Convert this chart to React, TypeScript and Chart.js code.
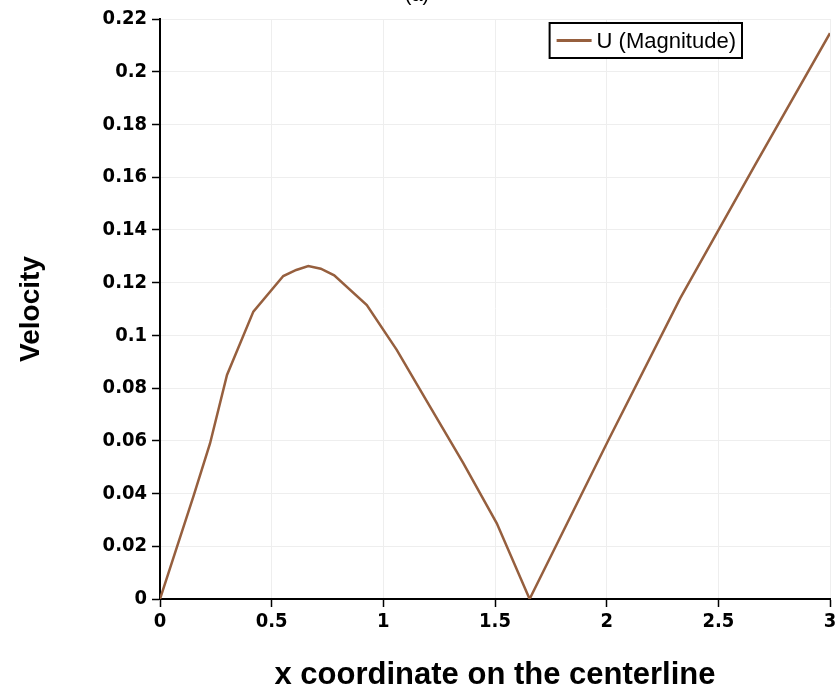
import React, { useEffect, useRef } from "react";
import { Chart, registerables } from "chart.js";

Chart.register(...registerables);

const seriesLabel = "U (Magnitude)";
const xCoords = [0, 0.15, 0.224, 0.3, 0.418, 0.552, 0.61, 0.664, 0.72, 0.78, 0.926, 1.06, 1.209, 1.358, 1.508, 1.655, 2.008, 2.329, 2.664, 3.0];
const velocity = [0, 0.039, 0.059, 0.085, 0.109, 0.1225, 0.1248, 0.1263, 0.1253, 0.1228, 0.1115, 0.0945, 0.073, 0.0515, 0.0287, 0.0, 0.0603, 0.114, 0.1646, 0.2146];
const xTitle = "x coordinate on the centerline";
const yTitle = "Velocity";
const chartTitle = "(a)";

const lineColor = "rgb(150, 95, 62)";
const tickFont = { family: "'Liberation Sans Narrow', 'DejaVu Sans Condensed', sans-serif", size: 20, weight: "bold" as const };
const xTitleFont = { family: "'Liberation Sans', Arial, sans-serif", size: 31, weight: "bold" as const };
const yTitleFont = { family: "'Liberation Sans', Arial, sans-serif", size: 28, weight: "bold" as const };

const fmt = (v: any) => String(Number(Number(v).toFixed(4)));

const boxLegend = {
  id: "boxLegend",
  afterDraw(chart: any) {
    const { ctx, chartArea } = chart;
    const ds = chart.data.datasets[0];
    ctx.save();
    ctx.font = "22px 'Liberation Sans', Arial, sans-serif";
    const tw = ctx.measureText(ds.label).width;
    const sample = 35;
    const padL = 7, gap = 5, padR = 6;
    const w = padL + sample + gap + tw + padR;
    const h = 35;
    const x = chartArea.right - 88 - w;
    const y = chartArea.top + 4;
    ctx.fillStyle = "#ffffff";
    ctx.fillRect(x, y, w, h);
    ctx.strokeStyle = "#000";
    ctx.lineWidth = 2;
    ctx.strokeRect(x, y, w, h);
    ctx.strokeStyle = ds.borderColor;
    ctx.lineWidth = 3;
    ctx.beginPath();
    ctx.moveTo(x + padL, y + h / 2);
    ctx.lineTo(x + padL + sample, y + h / 2);
    ctx.stroke();
    ctx.fillStyle = "#000";
    ctx.textBaseline = "middle";
    ctx.textAlign = "left";
    ctx.fillText(ds.label, x + padL + sample + gap, y + h / 2 + 1);
    // partially cut-off chart title at the very top
    ctx.font = "20px 'Liberation Sans', Arial, sans-serif";
    ctx.textAlign = "center";
    ctx.textBaseline = "bottom";
    ctx.fillText(chartTitle, 417, 5);
    ctx.restore();
  },
};

export default function App() {
  const ref = useRef<HTMLCanvasElement | null>(null);
  useEffect(() => {
    if (!ref.current) return;
    const chart = new Chart(ref.current, {
      type: "line",
      data: {
        datasets: [
          {
            label: seriesLabel,
            data: xCoords.map((x, i) => ({ x, y: velocity[i] })),
            borderColor: lineColor,
            backgroundColor: lineColor,
            borderWidth: 2.5,
            pointRadius: 0,
            tension: 0,
            fill: false,
          },
        ],
      },
      options: {
        animation: false,
        responsive: false,
        layout: { padding: { top: 19, right: 10, left: 0, bottom: 0 } },
        plugins: { legend: { display: false }, tooltip: { enabled: false }, title: { display: false } },
        scales: {
          x: {
            type: "linear",
            min: 0,
            max: 3,
            ticks: { stepSize: 0.5, color: "#000", font: tickFont, padding: 3, maxRotation: 0, callback: fmt },
            grid: { color: "#eeeeee", tickColor: "#000", tickLength: 8, tickWidth: 1.5 },
            border: { color: "#000", width: 2 },
            title: { display: true, text: xTitle, color: "#000", font: xTitleFont, padding: { top: 0, bottom: 6 } },
            afterFit: (s: any) => { s.height = 101; s.paddingLeft = 0; s.paddingRight = 0; },
          },
          y: {
            type: "linear",
            min: 0,
            max: 0.22,
            ticks: { stepSize: 0.02, color: "#000", font: tickFont, padding: 5, callback: fmt },
            grid: { color: "#eeeeee", tickColor: "#000", tickLength: 8, tickWidth: 1.5 },
            border: { color: "#000", width: 2 },
            title: { display: true, text: yTitle, color: "#000", font: yTitleFont, padding: { top: 14, bottom: 0 } },
            afterFit: (s: any) => { s.width = 160; s.paddingTop = 0; s.paddingBottom = 0; },
          },
        },
      },
      plugins: [boxLegend],
    });
    return () => chart.destroy();
  }, []);
  return (
    <div style={{ position: "fixed", left: 0, top: 0, width: 840, height: 700, background: "#fff" }}>
      <canvas ref={ref} width={840} height={700} style={{ width: 840, height: 700 }} />
    </div>
  );
}
